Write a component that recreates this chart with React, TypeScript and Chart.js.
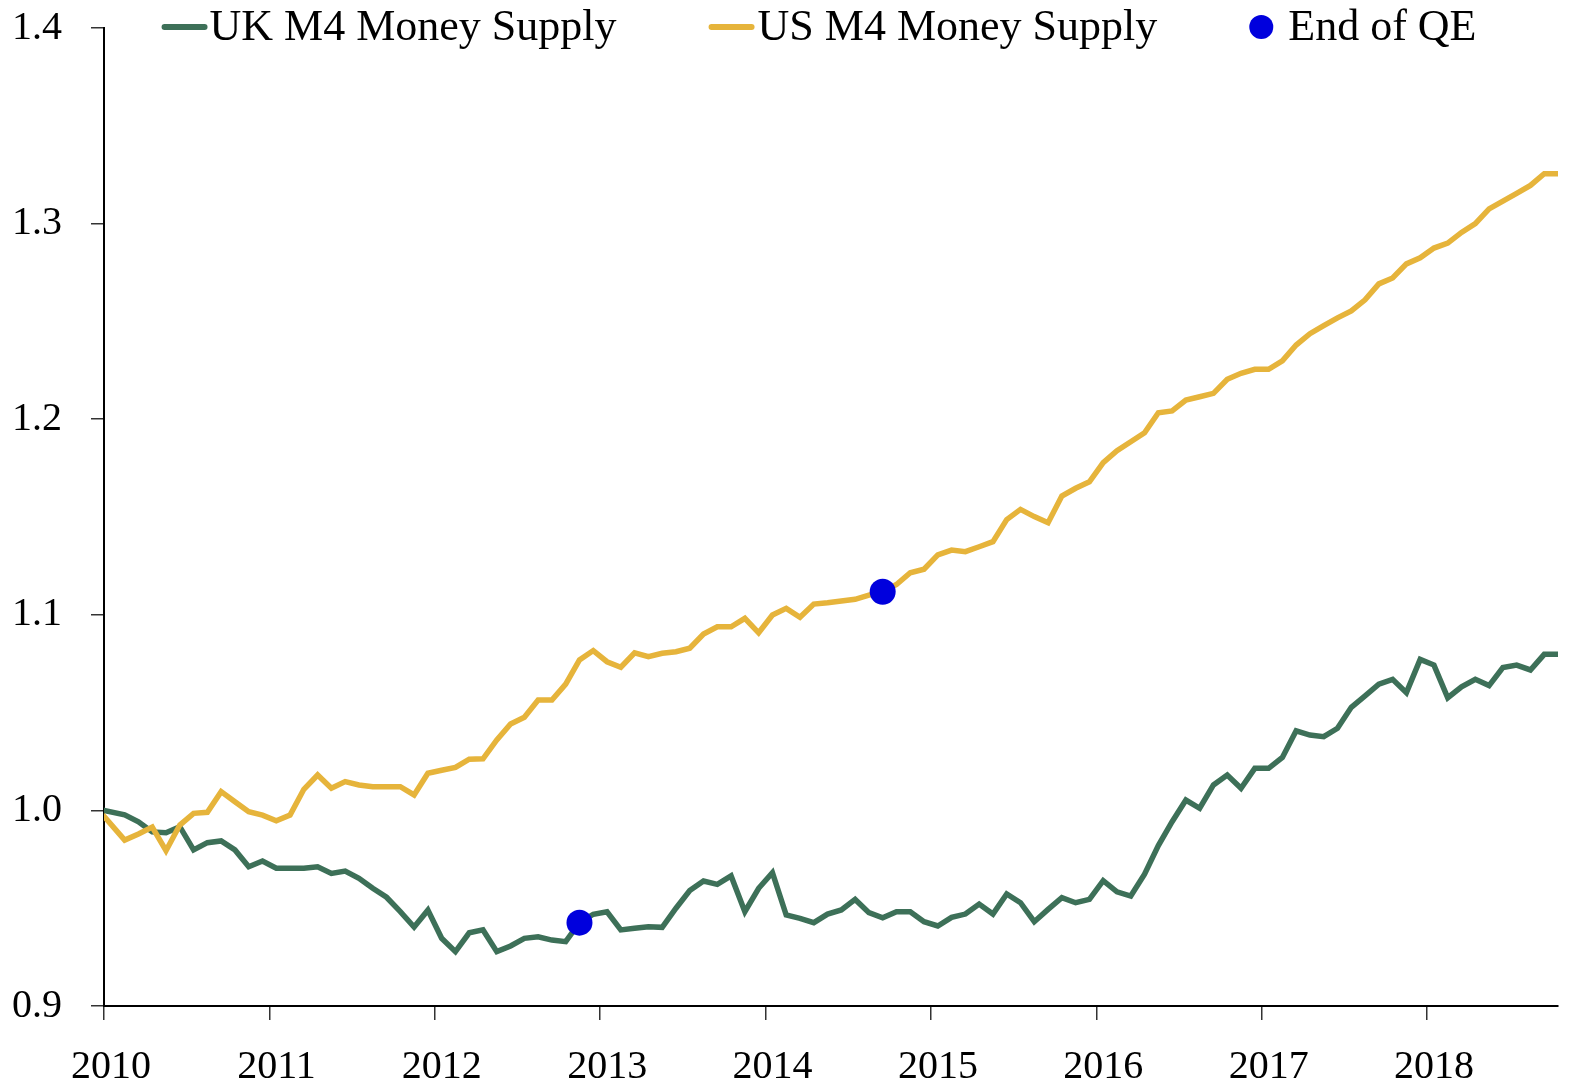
import React, { useEffect, useRef } from "react";
import { Chart, registerables } from "chart.js";

Chart.register(...registerables);

// ---- data (monthly, Jan 2010 = 1.0) ----
const yearLabels = ["2010", "2011", "2012", "2013", "2014", "2015", "2016", "2017", "2018"];
const yTickValues = [0.9, 1.0, 1.1, 1.2, 1.3, 1.4];

const ukM4 = [
  1.0, 0.9977, 0.9942, 0.989, 0.9886, 0.9917, 0.9798, 0.9835, 0.9844, 0.9798,
  0.9712, 0.9741, 0.9704, 0.9704, 0.9704, 0.9712, 0.9678, 0.969, 0.9653, 0.9602,
  0.9556, 0.9482, 0.9404, 0.949, 0.9346, 0.9278, 0.9374, 0.9389, 0.9278, 0.9307,
  0.9346, 0.9354, 0.9337, 0.9329, 0.9426, 0.9469, 0.9482, 0.9389, 0.9397, 0.9405,
  0.9402, 0.95, 0.959, 0.9639, 0.9622, 0.9665, 0.9482, 0.9602, 0.9682, 0.9465,
  0.9448, 0.9426, 0.947, 0.9491, 0.9545, 0.9477, 0.9451, 0.9482, 0.9482, 0.9431,
  0.9409, 0.9453, 0.947, 0.9521, 0.947, 0.9573, 0.9528, 0.9431, 0.9494, 0.9554,
  0.9528, 0.9545, 0.9641, 0.9584, 0.9562, 0.9674, 0.982, 0.9942, 1.0053, 1.0011,
  1.013, 1.0181, 1.0113, 1.0215, 1.0215, 1.0271, 1.0407, 1.0385, 1.0377, 1.042,
  1.0527, 1.0585, 1.0645, 1.067, 1.0602, 1.0772, 1.0743, 1.0576, 1.0632, 1.067,
  1.0638, 1.073, 1.0743, 1.0718, 1.0798, 1.0798,
];

const usM4 = [
  0.997, 0.9848, 0.9879, 0.9915, 0.9794, 0.9925, 0.9985, 0.999, 1.0096, 1.0044,
  0.9993, 0.9976, 0.9947, 0.9976, 1.0108, 1.0181, 1.0113, 1.0147, 1.013, 1.0121,
  1.0121, 1.0121, 1.0079, 1.019, 1.0205, 1.022, 1.0262, 1.0264, 1.036, 1.0442,
  1.0476, 1.0564, 1.0564, 1.0646, 1.0769, 1.0817, 1.076, 1.0732, 1.0806, 1.0786,
  1.0803, 1.0811, 1.0829, 1.0902, 1.0939, 1.0939, 1.0982, 1.0908, 1.0999, 1.1033,
  1.0987, 1.1055, 1.1062, 1.1071, 1.1079, 1.1101, 1.1118, 1.1155, 1.1215, 1.1233,
  1.1306, 1.1331, 1.1323, 1.1348, 1.1374, 1.1487, 1.1539, 1.1502, 1.1471, 1.1607,
  1.1647, 1.168, 1.1778, 1.1839, 1.1885, 1.1931, 1.2033, 1.2042, 1.2098, 1.2115,
  1.2132, 1.2204, 1.2235, 1.2255, 1.2255, 1.2298, 1.2379, 1.2437, 1.2478, 1.2518,
  1.2554, 1.261, 1.2692, 1.2722, 1.2794, 1.2825, 1.2875, 1.29, 1.2955, 1.3,
  1.3075, 1.3115, 1.3155, 1.3195, 1.3255, 1.3255,
];

// index of the month QE ended in each series
const qeEndUK = 34; // Nov 2012
const qeEndUS = 56; // Sep 2014

const seriesLabels = ["UK M4 Money Supply", "US M4 Money Supply", "End of QE"];
const colors = { uk: "#3d7058", us: "#e6b43b", qe: "#0000dd" };

// month position on the axis: first reading at the start, later ones mid-month
const monthPos = (i: number) => (i === 0 ? 0 : i + 0.5);

const FONT = '"Liberation Serif", "Times New Roman", serif';

const legendPlugin = {
  id: "customLegend",
  afterDraw(chart: any) {
    const ctx = chart.ctx as CanvasRenderingContext2D;
    ctx.save();
    ctx.font = `44px ${FONT}`;
    ctx.textBaseline = "middle";
    ctx.fillStyle = "#000";
    const y = 27;
    const sampleLen = 46;
    const items = [
      { kind: "line", color: colors.uk, text: seriesLabels[0], gapAfterSample: 2 },
      { kind: "line", color: colors.us, text: seriesLabels[1], gapAfterSample: 3 },
      { kind: "dot", color: colors.qe, text: seriesLabels[2], gapAfterSample: 15 },
    ];
    const itemGap = 92;
    const widths = items.map((it) => {
      const sw = it.kind === "line" ? sampleLen : 24;
      return sw + it.gapAfterSample + ctx.measureText(it.text).width;
    });
    const total = widths.reduce((a, b) => a + b, 0) + itemGap * (items.length - 1);
    let x = 819 - total / 2;
    items.forEach((it, k) => {
      if (it.kind === "line") {
        ctx.strokeStyle = it.color;
        ctx.lineWidth = 6;
        ctx.lineCap = "round";
        ctx.beginPath();
        ctx.moveTo(x + 3, y);
        ctx.lineTo(x + sampleLen - 3, y);
        ctx.stroke();
        x += sampleLen + it.gapAfterSample;
      } else {
        ctx.fillStyle = it.color;
        ctx.beginPath();
        ctx.arc(x + 12, y, 12, 0, Math.PI * 2);
        ctx.fill();
        x += 24 + it.gapAfterSample;
      }
      ctx.fillStyle = "#000";
      ctx.fillText(it.text, x, y + 1);
      x += ctx.measureText(it.text).width + (k < items.length - 1 ? itemGap : 0);
    });
    ctx.restore();
  },
};

export default function App() {
  const canvasRef = useRef<HTMLCanvasElement | null>(null);

  useEffect(() => {
    const canvas = canvasRef.current;
    if (!canvas) return;
    const ukData = ukM4.map((v, i) => ({ x: monthPos(i), y: v }));
    const usData = usM4.map((v, i) => ({ x: monthPos(i), y: v }));
    const qeData = [
      { x: monthPos(qeEndUK), y: ukM4[qeEndUK] },
      { x: monthPos(qeEndUS), y: usM4[qeEndUS] },
    ];
    const chart = new Chart(canvas, {
      type: "line",
      data: {
        datasets: [
          {
            label: seriesLabels[2],
            data: qeData,
            showLine: false,
            pointRadius: 13,
            pointHoverRadius: 13,
            pointBackgroundColor: colors.qe,
            pointBorderWidth: 0,
            borderColor: colors.qe,
            backgroundColor: colors.qe,
            order: 0,
          },
          {
            label: seriesLabels[1],
            data: usData,
            borderColor: colors.us,
            backgroundColor: colors.us,
            borderWidth: 5.5,
            pointRadius: 0,
            borderCapStyle: "round",
            tension: 0,
            order: 1,
          },
          {
            label: seriesLabels[0],
            data: ukData,
            borderColor: colors.uk,
            backgroundColor: colors.uk,
            borderWidth: 5.5,
            pointRadius: 0,
            borderCapStyle: "round",
            tension: 0,
            order: 2,
          },
        ],
      },
      options: {
        responsive: false,
        animation: false,
        devicePixelRatio: 1,
        layout: { padding: { left: 12, right: 13, top: 0, bottom: 0 } },
        plugins: {
          legend: { display: false },
          tooltip: { enabled: false },
        },
        scales: {
          x: {
            type: "linear",
            min: 0,
            max: 105.5,
            afterBuildTicks: (scale: any) => {
              scale.ticks = yearLabels.map((_, i) => ({ value: i * 12 }));
            },
            afterFit: (scale: any) => {
              scale.height = 80;
            },
            border: { display: true, color: "#000", width: 2 },
            grid: {
              drawOnChartArea: false,
              drawTicks: true,
              tickLength: 14,
              color: "#333",
              lineWidth: 1.5,
            },
            ticks: {
              autoSkip: false,
              maxRotation: 0,
              padding: 23,
              labelOffset: 7,
              color: "#000",
              font: { family: FONT, size: 40 },
              callback: (value: any) => {
                const idx = Math.round(Number(value) / 12);
                return yearLabels[idx] ?? "";
              },
            },
          },
          y: {
            min: 0.9,
            max: 1.4,
            afterBuildTicks: (scale: any) => {
              scale.ticks = yTickValues.map((v) => ({ value: v }));
            },
            afterFit: (scale: any) => {
              scale.width = 92;
            },
            border: { display: true, color: "#000", width: 2 },
            grid: {
              drawOnChartArea: false,
              drawTicks: true,
              tickLength: 13,
              color: "#333",
              lineWidth: 1.5,
            },
            ticks: {
              padding: 4,
              crossAlign: "far",
              color: "#000",
              font: { family: FONT, size: 40 },
              callback: (value: any) => Number(value).toFixed(1),
            },
          },
        },
      },
      plugins: [legendPlugin],
    });
    return () => chart.destroy();
  }, []);

  return (
    <div style={{ position: "absolute", left: 0, top: 0, width: 1571, height: 1086, background: "#fff" }}>
      <canvas ref={canvasRef} width={1571} height={1086} style={{ display: "block" }} />
    </div>
  );
}
